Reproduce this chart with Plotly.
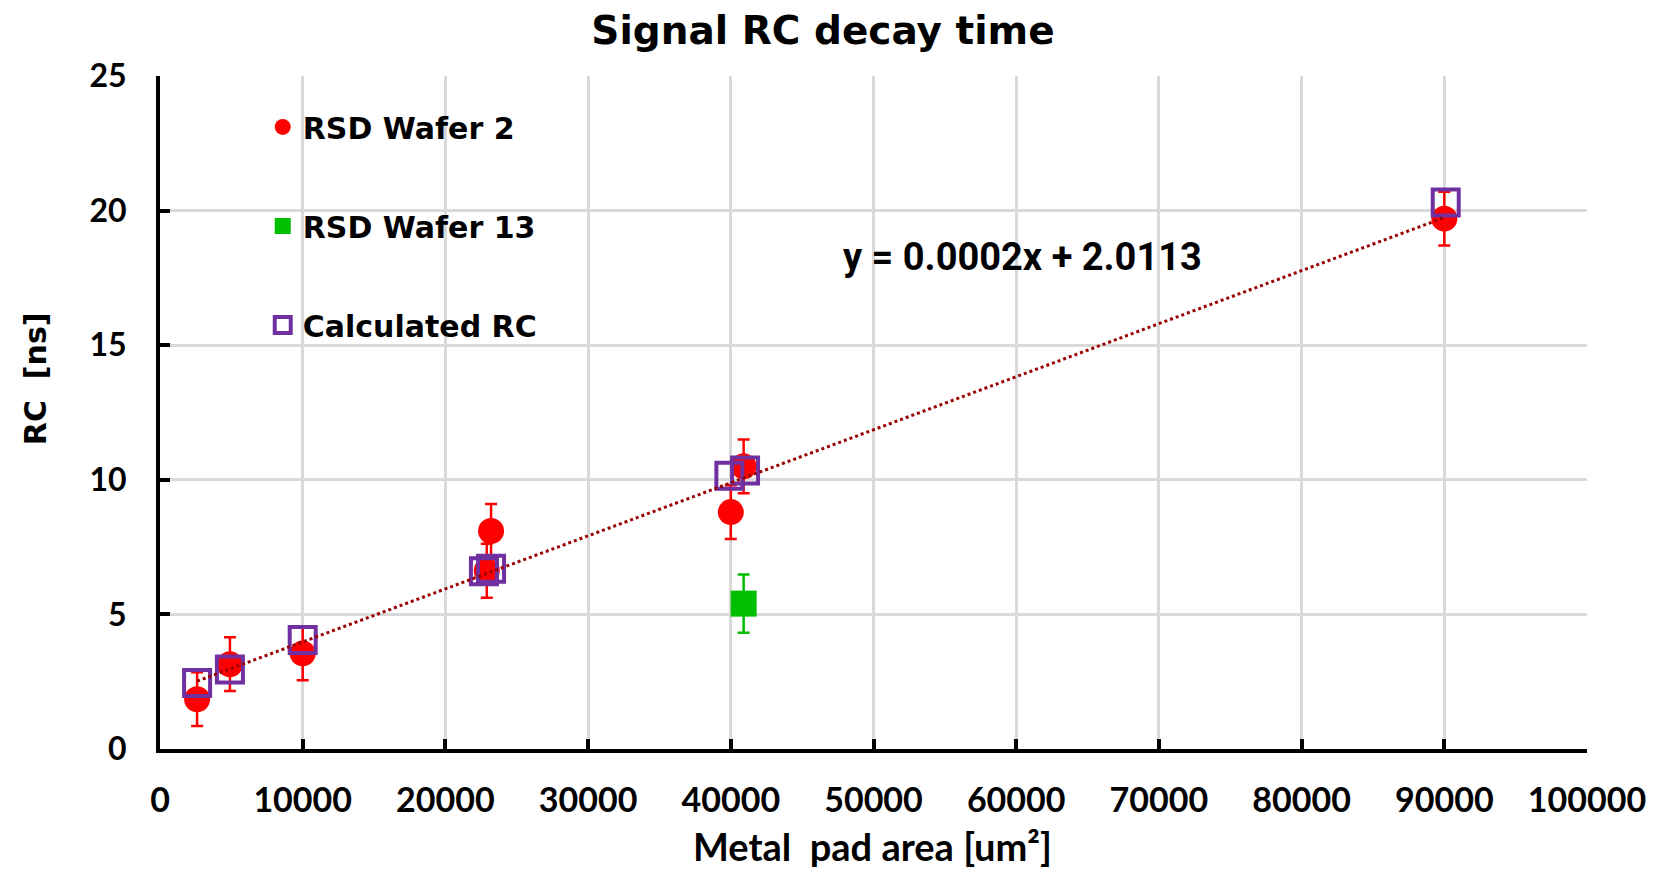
import plotly.graph_objects as go

# ---- data ----
w2_x = [2600, 4900, 10000, 22900, 23200, 40000, 40900, 90000]
w2_y = [1.85, 3.15, 3.55, 6.62, 8.1, 8.8, 10.5, 19.7]
w2_err = [1.0, 1.0, 1.0, 1.0, 1.0, 1.0, 1.0, 1.0]

w13_x = [40900]
w13_y = [5.4]
w13_err = [1.08]

calc_x = [2600, 4900, 10000, 22700, 23200, 39900, 41000, 90100]
calc_y = [2.45, 2.95, 4.05, 6.6, 6.7, 10.15, 10.35, 20.3]

trend_x = [2600, 90000]
trend_y = [2.52, 19.74]

x_ticks = [0, 10000, 20000, 30000, 40000, 50000, 60000, 70000, 80000, 90000, 100000]
y_ticks = [0, 5, 10, 15, 20, 25]

title_text = "Signal RC decay time"
x_title = "Metal  pad area [um²]"
y_title = "RC  [ns]"
fit_text = "y = 0.0002x + 2.0113"

LEG_FONT = dict(family="DejaVu Sans", size=30, color="black", weight="bold")

fig = go.Figure()
fig.add_trace(go.Scatter(
    x=w2_x, y=w2_y, mode="markers", name="RSD Wafer 2",
    legendgroup="a",
    marker=dict(symbol="circle", size=26, color="#FF0000"),
    error_y=dict(type="data", array=w2_err, visible=True, color="#FF0000",
                 thickness=2.5, width=6),
))
fig.add_trace(go.Scatter(
    x=w13_x, y=w13_y, mode="markers", name="RSD Wafer 13",
    legendgroup="b",
    marker=dict(symbol="square", size=26, color="#00BF00"),
    error_y=dict(type="data", array=w13_err, visible=True, color="#00BF00",
                 thickness=2.5, width=6),
))
fig.add_trace(go.Scatter(
    x=calc_x, y=calc_y, mode="markers", name="Calculated RC",
    legendgroup="c",
    marker=dict(symbol="square-open", size=26, color="#7030A0",
                line=dict(width=4, color="#7030A0")),
))
fig.add_trace(go.Scatter(
    x=trend_x, y=trend_y, mode="lines", showlegend=False,
    line=dict(color="#990000", width=3, dash="dot"),
    hoverinfo="skip",
))

fig.add_annotation(
    x=47700, y=18.28, xref="x", yref="y", text=fit_text, showarrow=False,
    xanchor="left", yanchor="middle",
    font=dict(family="Roboto", size=38, color="black", weight="bold"),
)
# axis titles
fig.add_annotation(
    x=0.499, y=-0.1813, xref="paper", yref="paper", text=x_title, showarrow=False,
    xanchor="center", yanchor="bottom",
    font=dict(family="Lato", size=38, color="black", weight="bold"),
)
fig.add_annotation(
    x=-0.0876, y=0.551, xref="paper", yref="paper", text=y_title, showarrow=False,
    xanchor="center", yanchor="middle", textangle=-90,
    font=dict(family="DejaVu Sans", size=30, color="black", weight="bold"),
)

fig.update_layout(
    width=1658, height=872,
    margin=dict(l=160, r=71, t=76, b=123),
    paper_bgcolor="white", plot_bgcolor="white",
    title=dict(text=title_text, x=823 / 1658, xanchor="center",
               y=1 - 30 / 872, yanchor="middle", yref="container",
               font=dict(family="DejaVu Sans", size=39, color="black", weight="bold")),
    legend=dict(x=0.072, xanchor="left", y=0.963, yanchor="top",
                bgcolor="rgba(0,0,0,0)", font=LEG_FONT,
                traceorder="grouped", tracegroupgap=57, itemsizing="trace"),
    showlegend=True,
)

fig.update_xaxes(
    range=[0, 100000], tickvals=x_ticks, ticktext=[str(v) for v in x_ticks],
    showgrid=True, gridcolor="#D9D9D9", gridwidth=3, zeroline=False,
    showline=True, linecolor="black", linewidth=4,
    ticks="inside", ticklen=10, tickwidth=4, tickcolor="black",
    ticklabelstandoff=18, automargin=False,
    tickfont=dict(family="Lato", size=34, color="black", weight="bold"),
)
fig.update_yaxes(
    range=[0, 25], tickvals=y_ticks,
    showgrid=True, gridcolor="#D9D9D9", gridwidth=3, zeroline=False,
    showline=True, linecolor="black", linewidth=4,
    ticks="inside", ticklen=10, tickwidth=4, tickcolor="black",
    ticklabelstandoff=23, automargin=False,
    tickfont=dict(family="Lato", size=32, color="black", weight="bold"),
)

fig.write_html("out.html")
